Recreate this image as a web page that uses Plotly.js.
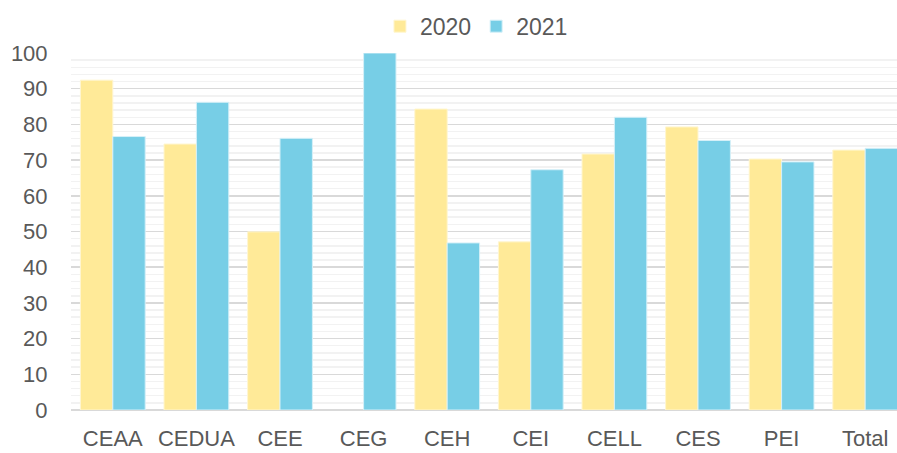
<!DOCTYPE html>
<html>
<head>
<meta charset="utf-8">
<script src="https://cdn.plot.ly/plotly-3.0.1.min.js"></script>
<style>html,body{margin:0;padding:0;background:#fff;overflow:hidden;}#chart{width:907px;height:453px;}</style>
</head>
<body>
<div id="chart"></div>
<script>
const categories = ["CEAA","CEDUA","CEE","CEG","CEH","CEI","CELL","CES","PEI","Total"];
const values2020 = [92.4, 74.5, 49.9, null, 84.3, 47.1, 71.7, 79.3, 70.3, 72.8];
const values2021 = [76.6, 86.2, 76.1, 100, 46.8, 67.3, 82.0, 75.5, 69.5, 73.3];
const seriesNames = ["2020","2021"];

const font = {family: "Liberation Sans, Arial, sans-serif", size: 22, color: "#595959"};

const traces = [
  {type:"bar", name: seriesNames[0], x: categories, y: values2020,
   marker:{color:"#FFEA98", line:{color:"#FFF6D0", width:1}}},
  {type:"bar", name: seriesNames[1], x: categories, y: values2021,
   marker:{color:"#77CEE6", line:{color:"#D6F0F8", width:1}}}
];

const layout = {
  width: 907, height: 453,
  margin: {l:71, r:0, t:53, b:43, pad:0, autoexpand:false},
  paper_bgcolor:"#fff", plot_bgcolor:"#fff",
  font: font,
  barmode: "group", bargap: 0.225, bargroupgap: 0,
  showlegend: true,
  legend: {orientation:"h", x:0.485, xanchor:"center", y:1.075, yanchor:"middle",
           font: {family: font.family, size: 23, color: font.color}, itemwidth:30, traceorder:"normal"},
  xaxis: {type:"category", showgrid:false, zeroline:false, showline:false, automargin:false,
          ticks:"outside", ticklen:9, tickcolor:"rgba(0,0,0,0)", tickfont: font},
  yaxis: {range:[0,100], dtick:10, tick0:0, showgrid:true, gridcolor:"#D9D9D9", gridwidth:1.5,
          zeroline:true, zerolinecolor:"#D9D9D9", zerolinewidth:2, showline:false, automargin:false,
          ticks:"outside", ticklen:18, tickcolor:"rgba(0,0,0,0)", tickfont: font,
          minor:{dtick:2, showgrid:true, gridcolor:"#F2F2F2", gridwidth:1.5}}
};

Plotly.newPlot("chart", traces, layout, {displayModeBar:false, staticPlot:true});
</script>
</body>
</html>
